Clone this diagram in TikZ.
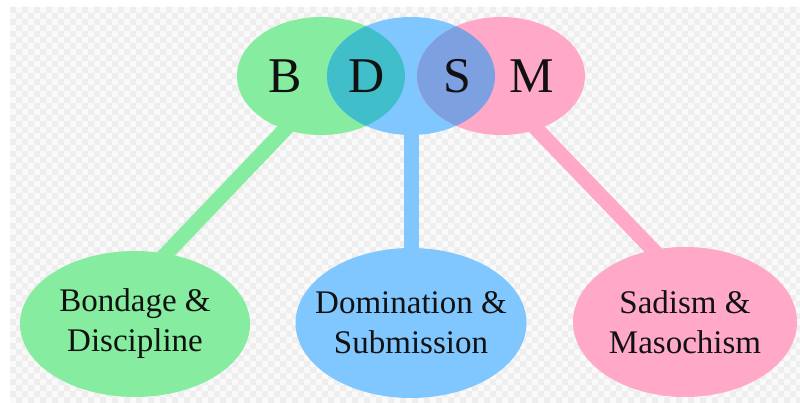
\documentclass[tikz,border=0pt]{standalone}
\usepackage{fontspec}
\setmainfont{Liberation Serif}
\usetikzlibrary{shapes.geometric}
\pgfdeclarelayer{back}
\pgfdeclarelayer{bg}
\pgfsetlayers{back,bg,main}
\definecolor{gB}{HTML}{85ECA0}
\definecolor{bB}{HTML}{80C7FF}
\definecolor{pB}{HTML}{FFA8C8}
\definecolor{gbOv}{HTML}{40BFCB}
\definecolor{bpOv}{HTML}{7DA0E0}
\definecolor{chkA}{HTML}{FAFAFA}
\definecolor{chkB}{HTML}{EEEEEE}
\definecolor{txt}{HTML}{111111}
\tikzset{
  topell/.style={ellipse, inner sep=0pt, minimum width=168pt, minimum height=118pt},
  botell/.style={ellipse, inner sep=0pt, minimum width=230pt, minimum height=146pt},
  bottxt/.style={inner sep=0pt, font=\fontsize{33}{40}\selectfont, align=center, text=txt},
  letter/.style={anchor=base, inner sep=0pt, font=\fontsize{50}{60}\selectfont, text=txt},
  bar/.style={line width=15pt, shorten <=-12pt, shorten >=-12pt}
}
\begin{document}
\begin{tikzpicture}[x=1pt,y=-1pt]
\useasboundingbox (0,0) rectangle (800,403);
% background (transparency checker)
\begin{pgfonlayer}{back}
\fill[white] (0,0) rectangle (800,403);
\fill[chkA] (10,7) rectangle (800,403);
\fill[chkB] \foreach \j [evaluate=\j as \off using {mod(\j,2)*6}] in {0,...,65} {
  \foreach \i in {0,...,65} { (10+\i*12+\off, 7+\j*6) rectangle ++(6,6) } };
\end{pgfonlayer}
% top ellipses
\node[topell, fill=gB] (Gt) at (321,76) {};
\node[topell, fill=bB] (Dt) at (411,76) {};
\node[topell, fill=pB] (Mt) at (501,76) {};
\begin{scope}
  \clip (Gt.center) ellipse [x radius=84pt, y radius=59pt];
  \fill[gbOv] (Dt.center) ellipse [x radius=84pt, y radius=59pt];
\end{scope}
\begin{scope}
  \clip (Dt.center) ellipse [x radius=84pt, y radius=59pt];
  \fill[bpOv] (Mt.center) ellipse [x radius=84pt, y radius=59pt];
\end{scope}
\node[letter] (lB) at (285,93) {B};
\node[letter] (lD) at (367,93) {D};
\node[letter] (lS) at (457,93) {S};
\node[letter] (lM) at (532,93) {M};
% bottom ellipses
\node[botell, fill=gB] (Gb) at (135,324) {};
\node[botell, fill=bB, minimum width=231pt, minimum height=150pt] (Db) at (411,323) {};
\node[botell, fill=pB, minimum width=224pt, minimum height=150pt] (Mb) at (685,322) {};
\node[bottxt] (Gtx) at (Gb.center) {Bondage \&\\Discipline};
\node[bottxt] (Dtx) at (Db.center) {Domination \&\\Submission};
\node[bottxt] (Mtx) at (Mb.center) {Sadism \&\\Masochism};
% connectors
\begin{pgfonlayer}{bg}
\draw[bar, gB] (Gt.236) -- (Gb.66);
\draw[bar, bB] (Dt.south) -- (Db.north);
\draw[bar, pB] (Mt.304) -- (Mb.114);
\end{pgfonlayer}
\end{tikzpicture}
\end{document}
